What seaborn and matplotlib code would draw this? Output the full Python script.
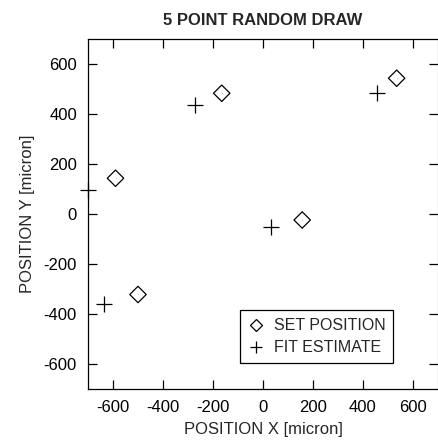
import matplotlib
matplotlib.use("Agg")
import matplotlib.pyplot as plt
from matplotlib.lines import Line2D
import pandas as pd
import seaborn as sns

# Commanded stage positions and the fitted estimates (micron)
set_x = [-590, -500, -165, 157, 535]
set_y = [143, -322, 483, -24, 543]
fit_x = [-700, -636, -272, 32, 455]
fit_y = [96, -360, 436, -53, 483]
ticks = [-600, -400, -200, 0, 200, 400, 600]

sns.set_theme(style="ticks")
plt.rcParams["font.family"] = ["Liberation Sans", "DejaVu Sans"]
plt.rcParams["axes.unicode_minus"] = False

set_df = pd.DataFrame({"x": set_x, "y": set_y})
fit_df = pd.DataFrame({"x": fit_x, "y": fit_y})

fig = plt.figure(figsize=(4.39, 4.46), dpi=100)
ax = fig.add_axes([0.2005, 0.1278, 0.797, 0.7848])

sns.scatterplot(data=set_df, x="x", y="y", marker="D", s=70,
                facecolor="none", edgecolor="black", linewidth=0.9, ax=ax,
                clip_on=False, zorder=3)
sns.scatterplot(data=set_df, x="x", y="y", marker=".", s=1,
                color="black", linewidth=0, ax=ax, zorder=3)
sns.scatterplot(data=fit_df, x="x", y="y", marker="+", s=120,
                color="black", linewidth=0.9, ax=ax, clip_on=False, zorder=3)

ax.set_xlim(-700, 700)
ax.set_ylim(-700, 700)
ax.set_xticks(ticks)
ax.set_yticks(ticks)
ax.tick_params(direction="in", length=6.5, width=0.9, top=True, right=True,
               labelsize=12, colors="black", pad=8)
for side in ax.spines.values():
    side.set_linewidth(0.9)
    side.set_color("black")
ax.spines["right"].set_color("#b0b0b0")

ax.set_xlabel("POSITION X [micron]", fontsize=12, labelpad=5)
ax.set_ylabel("POSITION Y [micron]", fontsize=12, labelpad=6)
ax.set_title("5 POINT RANDOM DRAW", fontsize=12, fontweight="bold", pad=10)

handles = [
    Line2D([], [], linestyle="none", marker="D", markersize=6,
           markerfacecolor="none", markeredgecolor="black", markeredgewidth=0.9),
    Line2D([], [], linestyle="none", marker="+", markersize=9,
           color="black", markeredgewidth=0.9),
]
leg = ax.legend(handles, ["SET POSITION", "FIT ESTIMATE"], loc="lower right",
                bbox_to_anchor=(0.872, 0.073), fontsize=11.5, frameon=True,
                fancybox=False, edgecolor="black", framealpha=1,
                handlelength=1.0, handletextpad=0.6, borderpad=0.5,
                labelspacing=0.45, borderaxespad=0)
leg.get_frame().set_linewidth(0.9)

fig.savefig("out.png", dpi=100)
